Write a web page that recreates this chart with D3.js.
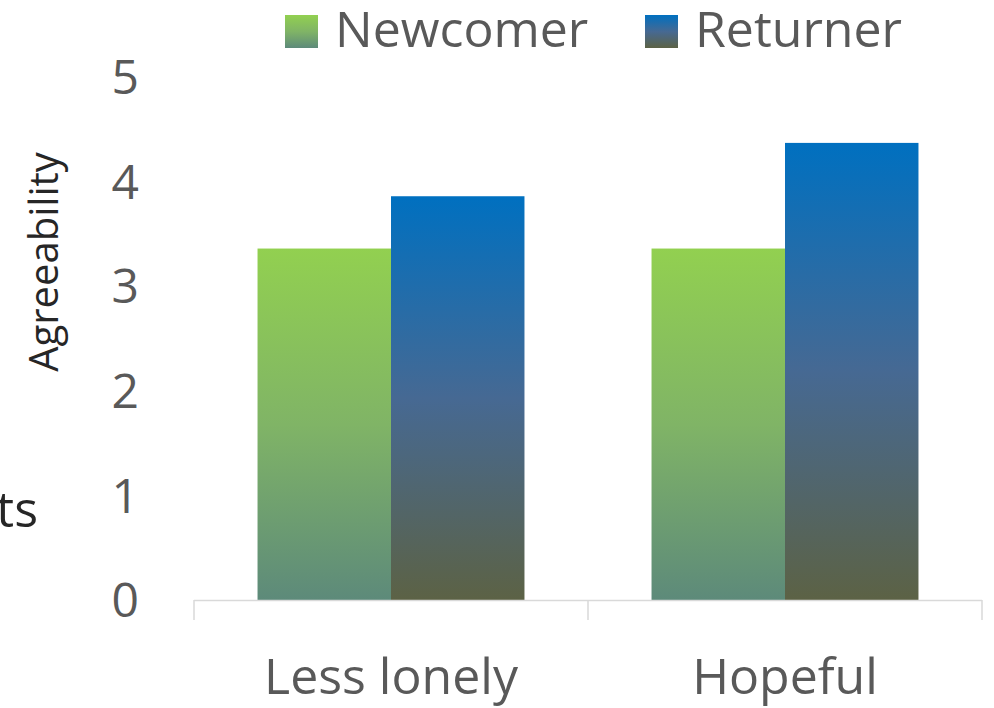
<!DOCTYPE html>
<html>
<head>
<meta charset="utf-8">
<script src="https://cdn.jsdelivr.net/npm/d3@7/dist/d3.min.js"></script>
<style>
  html, body { margin: 0; padding: 0; background: #fff; }
  svg { display: block; }
  text { font-family: "Open Sans", "Noto Sans", sans-serif; }
</style>
</head>
<body>
<svg id="chart" width="994" height="708"></svg>
<script>
const categories = ["Less lonely", "Hopeful"];
const seriesNames = ["Newcomer", "Returner"];
const newcomerValues = [3.36, 3.36];
const returnerValues = [3.86, 4.37];
const yTicks = [0, 1, 2, 3, 4, 5];
const yLabel = "Agreeability";

const seriesValues = [newcomerValues, returnerValues];
const gradStops = [
  [["0%", "#92D050"], ["50%", "#80B466"], ["100%", "#5D8A7A"]],
  [["0%", "#0070C0"], ["50%", "#466993"], ["100%", "#5C6245"]]
];

const svg = d3.select("#chart");
const defs = svg.append("defs");
gradStops.forEach((stops, i) => {
  const g = defs.append("linearGradient").attr("id", "grad" + i)
    .attr("x1", 0).attr("y1", 0).attr("x2", 0).attr("y2", 1);
  stops.forEach(s => g.append("stop").attr("offset", s[0]).attr("stop-color", s[1]));
});

const x0 = d3.scaleBand().domain(categories).range([194, 982]).paddingInner(0).paddingOuter(0);
const x1 = d3.scaleBand().domain(seriesNames).range([0, x0.bandwidth()]).paddingInner(0).paddingOuter(0.476);
const y = d3.scaleLinear().domain([0, 5]).range([600, 77]);

// bars
const groups = svg.append("g").selectAll("g").data(categories).join("g")
  .attr("transform", d => `translate(${x0(d)},0)`);
groups.selectAll("rect")
  .data((c, ci) => seriesNames.map((s, si) => ({ s, si, v: seriesValues[si][ci] })))
  .join("rect")
  .attr("x", d => x1(d.s))
  .attr("width", x1.bandwidth())
  .attr("y", d => y(d.v))
  .attr("height", d => y(0) - y(d.v))
  .attr("fill", d => `url(#grad${d.si})`);

// x axis line and ticks
const axisG = svg.append("g");
axisG.append("line").attr("x1", x0.range()[0]).attr("x2", x0.range()[1])
  .attr("y1", y(0) + 0.5).attr("y2", y(0) + 0.5)
  .attr("stroke", "#d9d9d9").attr("stroke-width", 1.5);
const boundaries = categories.map(c => x0(c)).concat([x0.range()[1]]);
axisG.selectAll("line.tick").data(boundaries).join("line").attr("class", "tick")
  .attr("x1", d => d).attr("x2", d => d)
  .attr("y1", y(0)).attr("y2", y(0) + 20)
  .attr("stroke", "#d9d9d9").attr("stroke-width", 1.5);
axisG.selectAll("text.cat").data(categories).join("text").attr("class", "cat")
  .attr("x", d => x0(d) + x0.bandwidth() / 2)
  .attr("y", 694)
  .attr("text-anchor", "middle")
  .attr("font-size", 50)
  .attr("fill", "#595959")
  .text(d => d);

// y tick labels
svg.append("g").selectAll("text").data(yTicks).join("text")
  .attr("x", 139)
  .attr("y", d => y(d))
  .attr("dy", "0.36em")
  .attr("text-anchor", "end")
  .attr("font-size", 48)
  .attr("fill", "#595959")
  .text(d => d);

// y label
svg.append("text")
  .attr("transform", "translate(58,262) rotate(-90)")
  .attr("text-anchor", "middle")
  .attr("font-size", 40)
  .attr("fill", "#262626")
  .text(yLabel);

// partially visible text at left edge
svg.append("text")
  .attr("x", 38).attr("y", 527)
  .attr("text-anchor", "end")
  .attr("font-size", 50)
  .attr("fill", "#262626")
  .text("ts");

// legend
const legendX = [285, 645];
const leg = svg.append("g").selectAll("g").data(seriesNames).join("g")
  .attr("transform", (d, i) => `translate(${legendX[i]},0)`);
leg.append("rect").attr("x", 0).attr("y", 15).attr("width", 33).attr("height", 33)
  .attr("fill", (d, i) => `url(#grad${i})`);
leg.append("text").attr("x", 50).attr("y", 47)
  .attr("font-size", 50).attr("fill", "#595959")
  .text(d => d);
</script>
</body>
</html>
